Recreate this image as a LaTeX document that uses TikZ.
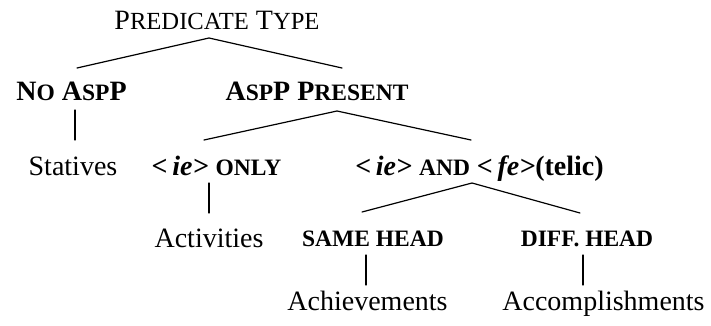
\documentclass[tikz,border=0pt]{standalone}
\usepackage{fontspec}
\setmainfont{Liberation Serif}
\newcommand\SmR[1]{{\fontsize{24.6}{28}\selectfont #1}}
\newcommand\SmB[1]{{\fontsize{23.5}{27}\selectfont #1}}
\tikzset{
  lbl/.style={inner sep=0pt, anchor=base, font=\fontsize{28}{32}\selectfont},
  hd/.style={inner sep=0pt, anchor=base, font=\fontsize{28}{32}\selectfont\bfseries},
  br/.style={line width=1.2pt, line cap=round}
}
\begin{document}
\begin{tikzpicture}[x=1pt,y=-1pt]
\useasboundingbox[fill=white] (0,0) rectangle (711,326);
\node[lbl] (pt) at (217,30) {P\SmR{REDICATE} T\SmR{YPE}};
\node[hd] (noasp) at (71.5,101) {N\SmB{O} A\SmB{SP}P};
\node[hd] (asp) at (317,101) {A\SmB{SP}P P\SmB{RESENT}};
\node[lbl] (stat) at (73,175) {Statives};
\node[lbl] (only) at (216.5,175) {\bfseries <\,\textit{ie>} \SmB{ONLY}};
\node[lbl] (and) at (479.5,175) {\bfseries <\,\textit{ie>} \SmB{AND} <\,\textit{fe>}(telic)};
\node[lbl] (act) at (209,247) {Activities};
\node[lbl] (same) at (373,246) {\bfseries\SmB{SAME HEAD}};
\node[lbl] (diff) at (587,246) {\bfseries\SmB{DIFF. HEAD}};
\node[lbl] (ach) at (367.5,310) {Achievements};
\node[lbl] (acc) at (603.5,310) {Accomplishments};
\draw[br] ([shift={(5.5,-33)}]noasp.base) -- ([shift={(-8,8)}]pt.base) -- ([shift={(25,-33)}]asp.base);
\draw[br] ([shift={(3.5,9)}]noasp.base) -- ([shift={(2,-35)}]stat.base);
\draw[br] ([shift={(-12.5,-35)}]only.base) -- ([shift={(20,10)}]asp.base) -- ([shift={(-8.5,-35)}]and.base);
\draw[br] ([shift={(-7.5,8)}]only.base) -- ([shift={(0,-34)}]act.base);
\draw[br] ([shift={(-11,-34)}]same.base) -- ([shift={(-7.5,8)}]and.base) -- ([shift={(-7,-33)}]diff.base);
\draw[br] ([shift={(-7,9)}]same.base) -- ([shift={(-1.5,-25)}]ach.base);
\draw[br] ([shift={(-4,9)}]diff.base) -- ([shift={(-20.5,-25)}]acc.base);
\end{tikzpicture}
\end{document}
